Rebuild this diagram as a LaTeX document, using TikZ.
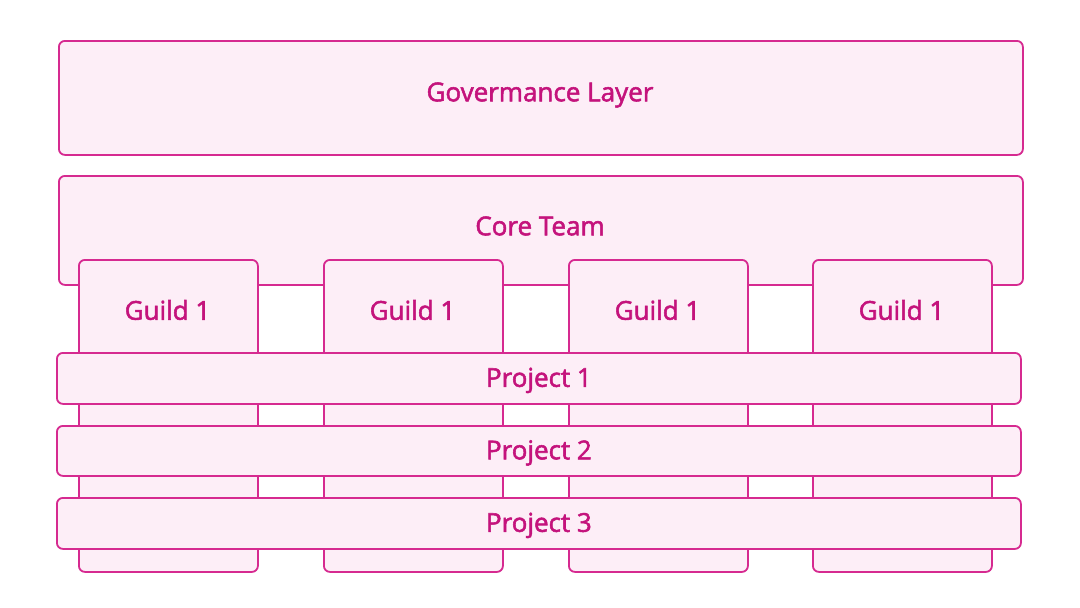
\documentclass[tikz,border=0pt]{standalone}
\usepackage{fontspec}
\setmainfont{Open Sans}
\newfontfamily\lblfont{Open Sans}[FakeBold=2]
\definecolor{edge}{HTML}{D62A90}
\definecolor{fillp}{HTML}{FDEEF7}
\definecolor{txt}{HTML}{C4137C}
\begin{document}
\begin{tikzpicture}[x=1pt,y=-1pt,
  box/.style={draw=edge,fill=fillp,line width=1.8pt,rounded corners=6pt,inner sep=0pt,anchor=north west},
  lbl/.style={text=txt,font=\lblfont\fontsize{26}{28}\selectfont,inner sep=0pt}]
\useasboundingbox[fill=white] (0,0) rectangle (1080,608);
\node[box,minimum width=964pt,minimum height=114pt] (gov) at (58,40) {};
\node[lbl] (govt) at (540,95) {Govermance Layer};
\node[box,minimum width=964pt,minimum height=109pt] (core) at (58,175) {};
\node[lbl] (coret) at (540,226) {Core Team};
\foreach \x/\n in {78/a,323/b,568/c,812/d}{
  \node[box,minimum width=179pt,minimum height=312pt] (g\n) at (\x,259) {};
  \node[lbl] (g\n t) at ([xshift=89.5pt]\x,310) {Guild 1};
}
\node[box,minimum width=964pt,minimum height=51pt] (p1) at (56,352) {};
\node[lbl] (p1t) at ([yshift=-2pt]p1.center) {Project 1};
\node[box,minimum width=964pt,minimum height=50pt] (p2) at (56,425) {};
\node[lbl] (p2t) at ([yshift=-2pt]p2.center) {Project 2};
\node[box,minimum width=964pt,minimum height=51pt] (p3) at (56,497) {};
\node[lbl] (p3t) at ([yshift=-2pt]p3.center) {Project 3};
\end{tikzpicture}
\end{document}
